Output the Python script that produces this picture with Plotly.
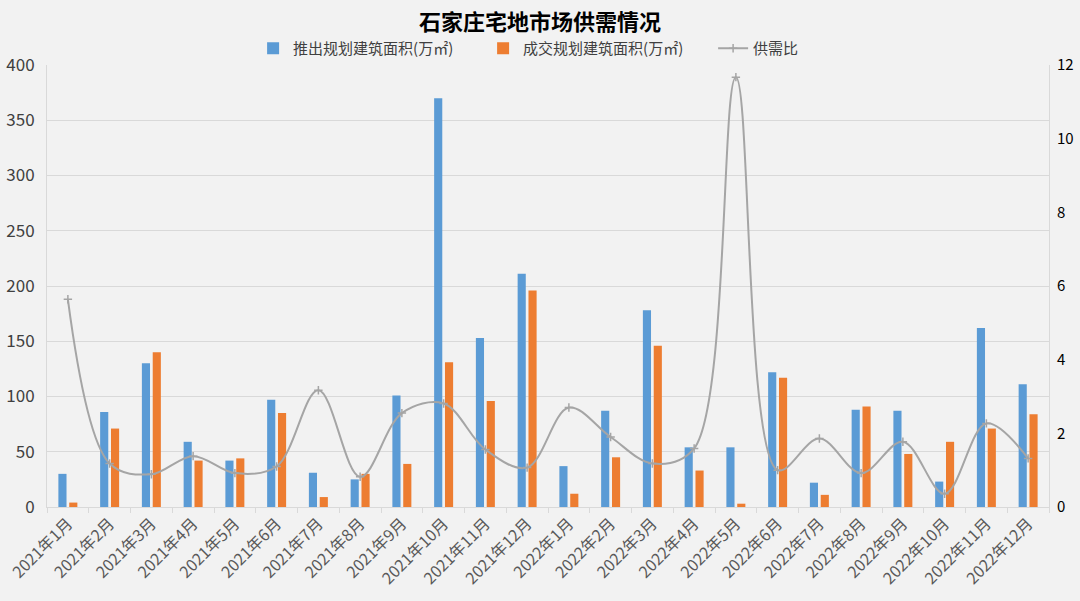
import plotly.graph_objects as go

months = ["2021年1月", "2021年2月", "2021年3月", "2021年4月", "2021年5月", "2021年6月",
          "2021年7月", "2021年8月", "2021年9月", "2021年10月", "2021年11月", "2021年12月",
          "2022年1月", "2022年2月", "2022年3月", "2022年4月", "2022年5月", "2022年6月",
          "2022年7月", "2022年8月", "2022年9月", "2022年10月", "2022年11月", "2022年12月"]

supply = [30, 86, 130, 59, 42, 97, 31, 25, 101, 370, 153, 211,
          37, 87, 178, 54, 54, 122, 22, 88, 87, 23, 162, 111]
deal = [4, 71, 140, 42, 44, 85, 9, 30, 39, 131, 96, 196,
        12, 45, 146, 33, 3, 117, 11, 91, 48, 59, 71, 84]
ratio = [5.64, 1.18, 0.89, 1.38, 0.92, 1.10, 3.17, 0.82, 2.55, 2.81, 1.56, 1.07,
         2.70, 1.90, 1.18, 1.59, 11.67, 1.00, 1.86, 0.92, 1.77, 0.36, 2.27, 1.32]

font_family = "Noto Sans CJK SC, Noto Sans, sans-serif"

fig = go.Figure()
fig.add_trace(go.Bar(x=months, y=supply, name="推出规划建筑面积(万㎡)",
                     marker=dict(color="#5b9bd5", line=dict(width=0))))
fig.add_trace(go.Bar(x=months, y=deal, name="成交规划建筑面积(万㎡)",
                     marker=dict(color="#ed7d31", line=dict(width=0))))
fig.add_trace(go.Scatter(x=months, y=ratio, name="供需比", yaxis="y2",
                         mode="lines+markers",
                         line=dict(color="#a5a5a5", width=2, shape="spline", smoothing=1.0),
                         marker=dict(symbol="cross-thin", size=6,
                                     line=dict(color="#a5a5a5", width=1.5), color="#a5a5a5")))

fig.update_layout(
    width=1080, height=601,
    paper_bgcolor="#f2f2f2", plot_bgcolor="#f2f2f2",
    margin=dict(l=47, r=31, t=65, b=94),
    font=dict(family=font_family, color="#404040"),
    title=dict(text="<b>石家庄宅地市场供需情况</b>", x=0.5, xanchor="center",
               y=0.963, yanchor="middle",
               font=dict(size=22, color="#000000", family=font_family)),
    legend=dict(orientation="h", x=0.55, xanchor="center", y=1.0, yanchor="bottom",
                font=dict(size=15, color="#404040"), bgcolor="rgba(0,0,0,0)",
                itemwidth=30, traceorder="normal", entrywidth=185),
    barmode="group", bargap=0.48, bargroupgap=0.25,
    showlegend=True,
    xaxis=dict(type="category", range=[-0.5, 23.5], tickangle=-45,
               tickfont=dict(size=16, color="#595959"), automargin=False,
               showgrid=False, showline=True, linecolor="#d9d9d9", linewidth=1,
               ticks="outside", tickson="boundaries", ticklen=5, tickcolor="#d9d9d9"),
    yaxis=dict(range=[0, 400], dtick=50, tickfont=dict(size=17, color="#404040"),
               showgrid=True, gridcolor="#d9d9d9", gridwidth=1, automargin=False,
               ticklabelstandoff=8,
               showline=True, linecolor="#d9d9d9", zeroline=False, ticks=""),
    yaxis2=dict(range=[0, 12], dtick=2, overlaying="y", side="right",
                tickfont=dict(size=15, color="#000000"), showgrid=False, automargin=False,
                ticklabelstandoff=4,
                showline=True, linecolor="#d9d9d9", zeroline=False, ticks=""),
)

fig.write_html("out.html")
